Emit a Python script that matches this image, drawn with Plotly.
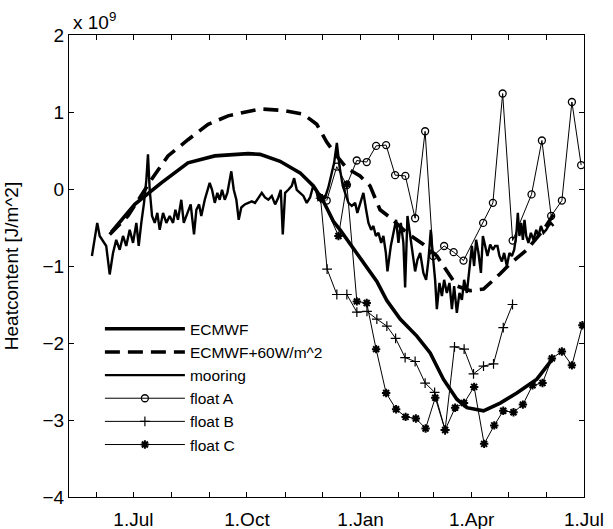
import numpy as np
import pandas as pd
import plotly.graph_objects as go

# Time is given in days after 1 July 1997; values are heat content in units of 1e9 J/m^2.
ORIGIN = pd.Timestamp("1997-07-01")

ecmwf_days = [-17.9, 1.1, 22.6, 44.2, 65.9, 92.9, 102.6, 118.8, 135.0, 145.8, 153.9, 162.0,
              167.4, 178.2, 189.0, 197.2, 205.3, 216.1, 229.6, 240.4, 251.1, 262.0, 270.1,
              283.6, 297.1, 310.6, 326.8, 340.3]
ecmwf_vals = [-0.56, -0.20, 0.08, 0.34, 0.43, 0.46, 0.45, 0.36, 0.21, 0.04, -0.16, -0.42,
              -0.53, -0.78, -1.03, -1.20, -1.45, -1.69, -1.91, -2.13, -2.47, -2.73, -2.84,
              -2.88, -2.78, -2.65, -2.47, -2.19]

ecmwf60_days = [-19.2, -4.4, 14.5, 28.0, 44.2, 60.5, 76.7, 92.9, 102.6, 121.5, 137.7, 148.5,
                156.6, 164.7, 172.8, 183.6, 191.7, 199.8, 207.9, 221.5, 235.0, 245.8, 262.0,
                272.8, 283.6, 297.1, 305.2, 318.7, 332.2, 340.3]
ecmwf60_vals = [-0.59, -0.35, 0.12, 0.43, 0.64, 0.84, 0.95, 1.01, 1.04, 1.02, 0.97, 0.84,
                0.61, 0.43, 0.27, 0.17, 0.04, -0.27, -0.37, -0.57, -0.72, -0.87, -1.26,
                -1.32, -1.30, -1.10, -0.97, -0.79, -0.53, -0.33]

mooring_days = [-33.6, -32.0, -29.3, -27.3, -24.6, -22.0, -19.2, -16.5, -13.9, -11.1, -8.4,
                -5.8, -3.0, -0.3, 2.4, 4.3, 6.4, 8.6, 10.5, 11.8, 13.2, 15.1, 17.3, 19.4,
                21.3, 24.0, 26.7, 29.4, 32.1, 34.0, 36.1, 38.8, 40.8, 42.9, 44.8, 46.4,
                49.1, 51.0, 53.2, 55.0, 57.8, 59.9, 61.8, 63.7, 65.9, 68.0, 69.9, 71.8,
                74.0, 76.1, 78.0, 79.3, 81.3, 83.4, 85.3, 87.4, 90.2, 92.9, 95.9, 98.5,
                101.2, 104.0, 106.6, 109.3, 112.1, 114.8, 117.4, 119.4, 121.0, 122.9,
                125.5, 128.3, 130.2, 132.3, 135.0, 137.7, 140.4, 143.1, 145.3, 148.0,
                149.8, 152.6, 155.3, 157.9, 160.7, 162.6, 164.8, 166.9, 169.6, 172.3,
                174.2, 176.9, 179.6, 181.4, 183.6, 186.3, 188.5, 190.4, 192.6, 194.4,
                196.4, 198.5, 200.7, 202.5, 204.5, 205.8, 208.5, 210.6, 212.8, 214.7,
                216.6, 218.7, 220.1, 222.0, 224.2, 226.3, 228.2, 230.1, 232.3, 234.9,
                237.1, 239.0, 240.9, 242.6, 244.4, 245.8, 247.9, 249.9, 251.7, 253.9,
                256.0, 258.0, 259.8, 262.0, 264.1, 266.1, 267.9, 270.1, 272.2, 274.2,
                276.0, 277.6, 279.5, 281.5, 283.1, 284.9, 286.8, 289.0, 291.2, 293.0,
                294.9, 296.5, 298.5, 300.3, 302.5, 304.6, 306.6, 308.4, 310.1, 311.4,
                312.7, 314.1, 315.5, 316.8, 318.2, 320.0, 322.0, 324.1, 326.3, 328.1,
                330.1, 332.2, 334.4, 336.2, 338.2, 340.3]
mooring_vals = [-0.87, -0.72, -0.44, -0.61, -0.68, -0.74, -1.11, -0.83, -0.66, -0.79, -0.61,
                -0.74, -0.53, -0.70, -0.44, -0.74, -0.44, -0.18, 0.12, 0.45, -0.01, -0.35,
                -0.44, -0.31, -0.53, -0.31, -0.44, -0.35, -0.44, -0.27, -0.40, -0.14, -0.44,
                -0.35, -0.27, -0.20, -0.59, -0.27, -0.20, -0.35, -0.14, -0.01, 0.08, -0.01,
                -0.18, -0.05, -0.14, -0.01, -0.14, -0.05, 0.12, 0.23, -0.01, -0.14, -0.40,
                -0.24, -0.20, -0.18, -0.16, -0.18, -0.11, -0.05, -0.11, -0.14, -0.09, -0.20,
                -0.11, -0.01, -0.59, -0.05, -0.01, 0.04, 0.14, -0.01, -0.05, -0.09, -0.18,
                -0.11, 0.02, -0.01, -0.14, -0.11, -0.11, 0.02, 0.21, 0.34, 0.60, 0.30, 0.04,
                -0.09, -0.18, -0.22, -0.18, -0.31, -0.20, -0.05, -0.27, -0.44, -0.53, -0.48,
                -0.61, -0.57, -0.70, -0.61, -0.83, -1.07, -0.74, -0.57, -0.40, -0.70, -0.44,
                -0.70, -1.28, -0.35, -0.61, -0.80, -1.07, -0.92, -0.83, -1.09, -1.18, -0.92,
                -0.53, -0.87, -1.18, -1.56, -1.22, -1.39, -1.18, -1.35, -1.22, -1.56, -1.26,
                -1.61, -1.35, -1.44, -1.18, -1.35, -1.00, -0.74, -1.00, -0.66, -0.83, -1.09,
                -0.61, -0.74, -0.87, -0.72, -0.79, -0.74, -0.74, -0.87, -0.94, -0.83, -1.00,
                -0.83, -0.87, -0.79, -0.61, -0.31, -0.61, -0.44, -0.66, -0.40, -0.61, -0.70,
                -0.57, -0.66, -0.53, -0.61, -0.48, -0.57, -0.53, -0.48, -0.44, -0.48]

floatA_days = [156.6, 164.7, 172.8, 180.9, 189.0, 196.6, 204.7, 212.0, 220.3, 228.2, 236.3,
               242.8, 251.7, 259.4, 267.4, 283.3, 291.2, 299.1, 307.2, 322.5, 330.9, 338.4,
               347.1, 355.2, 362.7]
floatA_vals = [-0.15, 0.29, 0.05, 0.37, 0.35, 0.56, 0.57, 0.18, 0.17, -0.38, 0.75, -0.87,
               -0.74, -0.82, -0.93, -0.44, -0.18, 1.24, -0.67, -0.07, 0.63, -0.35, -0.15,
               1.13, 0.31]

floatB_days = [151.6, 156.9, 164.8, 172.9, 181.0, 189.2, 197.2, 205.3, 212.4, 220.1, 228.2,
               236.3, 244.0, 252.5, 260.1, 267.9, 275.5, 283.6, 291.7, 299.6, 307.1]
floatB_vals = [-0.12, -1.04, -1.37, -1.37, -1.60, -1.59, -1.69, -1.78, -1.94, -2.19, -2.24,
               -2.52, -2.64, -3.13, -2.05, -2.08, -2.40, -2.30, -2.27, -1.80, -1.50]

floatC_days = [152.8, 166.1, 172.9, 181.0, 189.0, 196.6, 204.7, 212.8, 220.5, 228.8, 236.7,
               244.5, 252.5, 260.6, 267.8, 276.0, 284.1, 292.3, 299.6, 307.9, 315.5, 323.3,
               331.4, 339.0, 347.1, 355.2, 363.7]
floatC_vals = [-0.12, -0.61, 0.06, -1.46, -1.48, -2.08, -2.65, -2.86, -2.96, -2.98, -3.11,
               -2.71, -3.13, -2.84, -2.78, -2.57, -3.31, -3.07, -2.88, -2.90, -2.80, -2.55,
               -2.52, -2.20, -2.11, -2.29, -1.77]

y_ticks = [-4, -3, -2, -1, 0, 1, 2]
x_tick_dates = ["1997-07-01", "1997-10-01", "1998-01-01", "1998-04-01", "1998-07-01"]
x_tick_labels = ["1.Jul", "1.Oct", "1.Jan", "1.Apr", "1.Jul"]


def to_dates(days):
    return ORIGIN + pd.to_timedelta(np.asarray(days), unit="D")


FONT = "Liberation Sans, Arial, Helvetica, sans-serif"

fig = go.Figure()
fig.add_trace(go.Scatter(x=to_dates(ecmwf_days), y=ecmwf_vals, mode="lines", name="ECMWF",
                         line=dict(color="black", width=3.6)))
fig.add_trace(go.Scatter(x=to_dates(ecmwf60_days), y=ecmwf60_vals, mode="lines",
                         name="ECMWF+60W/m^2",
                         line=dict(color="black", width=3.6, dash="15px,8px")))
fig.add_trace(go.Scatter(x=to_dates(mooring_days), y=mooring_vals, mode="lines", name="mooring",
                         line=dict(color="black", width=2.4)))
fig.add_trace(go.Scatter(x=to_dates(floatA_days), y=floatA_vals, mode="lines+markers",
                         name="float A", line=dict(color="black", width=1),
                         marker=dict(symbol="circle-open", size=7, color="black",
                                     line=dict(width=1.3, color="black"))))
fig.add_trace(go.Scatter(x=to_dates(floatB_days), y=floatB_vals, mode="lines+markers",
                         name="float B", line=dict(color="black", width=1),
                         marker=dict(symbol="cross-thin-open", size=7, color="black",
                                     line=dict(width=1.2, color="black"))))
fig.add_trace(go.Scatter(x=to_dates(floatC_days), y=floatC_vals, mode="lines+markers",
                         name="float C", line=dict(color="black", width=1),
                         marker=dict(symbol="asterisk-open", size=7, color="black",
                                     line=dict(width=2, color="black"))))

# labelled ticks every third month, unlabelled minor ticks every month
fig.update_xaxes(range=["1997-05-09 20:00", "1998-07-01"], tickvals=x_tick_dates,
                 ticktext=x_tick_labels,
                 ticks="inside", ticklen=5, tickcolor="black", showline=True, linecolor="black",
                 linewidth=1, mirror="ticks", showgrid=False, zeroline=False,
                 minor=dict(ticks="inside", ticklen=5, tickcolor="black", dtick="M1",
                            tick0="1997-06-01", showgrid=False),
                 ticklabelstandoff=5, automargin=False,
                 tickfont=dict(family=FONT, size=19, color="black"))
fig.update_yaxes(range=[-4, 2], tickvals=y_ticks, ticks="inside", ticklen=5, tickcolor="black",
                 showline=True, linecolor="black", linewidth=1, mirror="ticks", showgrid=False,
                 zeroline=False, automargin=False,
                 tickfont=dict(family=FONT, size=19, color="black"),
                 title=dict(text="Heatcontent [J/m^2]", standoff=18,
                            font=dict(family=FONT, size=19, color="black")))

fig.add_annotation(x=0, y=1, xref="paper", yref="paper", xanchor="left", yanchor="bottom",
                   text="x 10<sup>9</sup>", showarrow=False, xshift=2, yshift=0,
                   font=dict(family=FONT, size=19, color="black"))

fig.update_layout(width=613, height=529, margin=dict(l=69, r=29, t=35, b=32, autoexpand=False),
                  plot_bgcolor="white", paper_bgcolor="white", showlegend=True,
                  legend=dict(x=0.06, y=0.40, xanchor="left", yanchor="top",
                              bgcolor="rgba(0,0,0,0)", borderwidth=0, itemwidth=80,
                              font=dict(family=FONT, size=15.5, color="black"),
                              tracegroupgap=0))

fig.write_html("out.html")
